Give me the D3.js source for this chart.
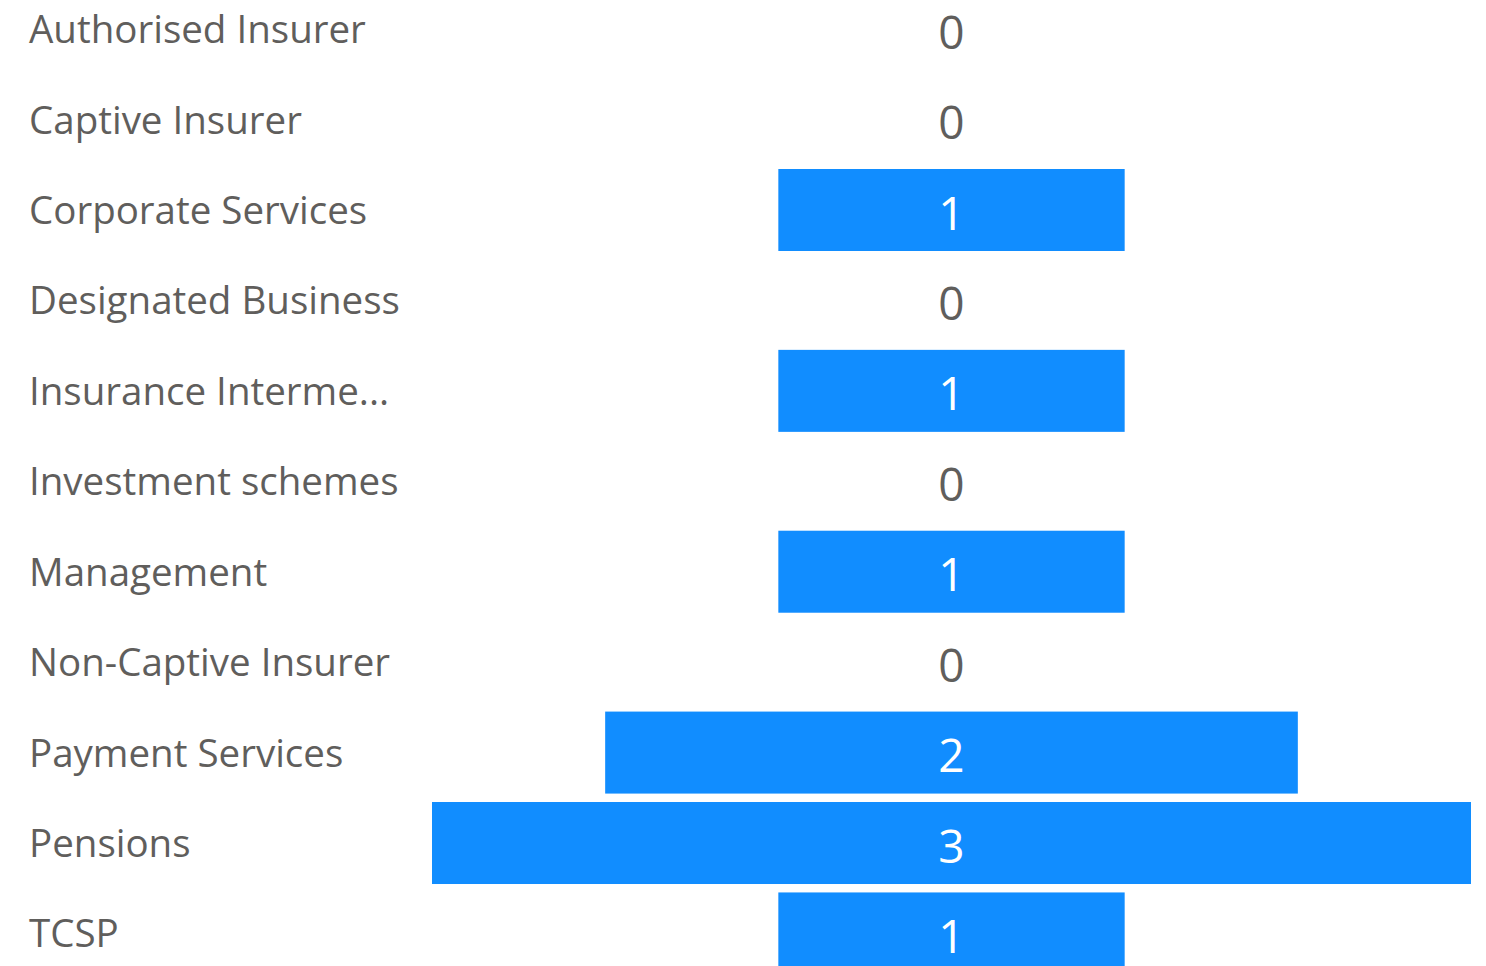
<!DOCTYPE html>
<html>
<head>
<meta charset="utf-8">
<script src="https://cdn.jsdelivr.net/npm/d3@7"></script>
<style>
  html, body { margin: 0; padding: 0; background: #fff; overflow: hidden; }
  svg { display: block; }
</style>
</head>
<body>
<svg id="chart"></svg>
<script>
const categories = ["Authorised Insurer", "Captive Insurer", "Corporate Services", "Designated Business",
  "Insurance Interme...", "Investment schemes", "Management", "Non-Captive Insurer",
  "Payment Services", "Pensions", "TCSP"];
const counts = [0, 0, 1, 0, 1, 0, 1, 0, 2, 3, 1];

const width = 1486;
const height = 966;
const barColor = "#118DFF";
const textColor = "#605E5C";
const font = "'Open Sans', 'Noto Sans', sans-serif";

let svg = d3.select("#chart").attr("width", width).attr("height", height);

// funnel: bars centred on one axis
const step = 90.43;
const top0 = -11.86;
let y = d3.scaleBand()
  .domain(categories)
  .range([top0, top0 + step * categories.length - 8.43])
  .paddingInner(8.43 / step)
  .paddingOuter(0);

const cx = 951.5;
let w = d3.scaleLinear().domain([0, d3.max(counts)]).range([0, 1039]);

let rows = svg.selectAll("g.row")
  .data(categories.map((c, i) => ({ name: c, value: counts[i] })))
  .enter().append("g")
  .attr("class", "row")
  .attr("transform", (d) => `translate(0,${y(d.name)})`);

rows.append("rect")
  .attr("x", (d) => cx - w(d.value) / 2)
  .attr("y", 0)
  .attr("width", (d) => w(d.value))
  .attr("height", y.bandwidth())
  .attr("fill", barColor);

rows.append("text")
  .attr("x", 29)
  .attr("y", y.bandwidth() / 2 + 14)
  .attr("font-family", font)
  .attr("font-size", 38.5)
  .attr("fill", textColor)
  .text((d) => d.name);

rows.append("text")
  .attr("x", cx)
  .attr("y", y.bandwidth() / 2 + 19.5)
  .attr("text-anchor", "middle")
  .attr("font-family", font)
  .attr("font-size", 46)
  .attr("fill", (d) => (d.value > 0 ? "#fff" : textColor))
  .text((d) => d.value);
</script>
</body>
</html>
